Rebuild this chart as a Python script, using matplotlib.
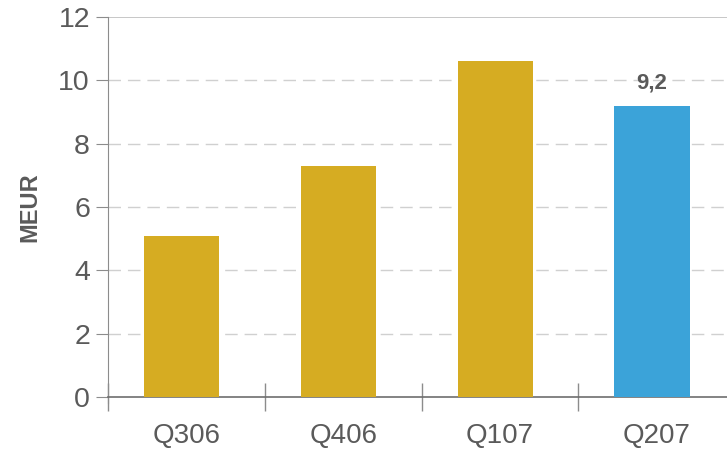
import numpy as np
import matplotlib
matplotlib.use("Agg")
from matplotlib import pyplot as plt

# quarterly values, MEUR
quarters = ["Q306", "Q406", "Q107", "Q207"]
values = [5.1, 7.3, 10.6, 9.2]
bar_colors = ["#D6AC22", "#D6AC22", "#D6AC22", "#3BA3D9"]
highlight = 3  # latest quarter gets a value label

plt.rcParams["font.family"] = ["Liberation Sans", "DejaVu Sans"]
grey = "#5A5A5A"
axis_grey = "#8C8C8C"

fig = plt.figure(figsize=(7.27, 4.54), dpi=100)
# axes runs off the right edge of the figure
ax = fig.add_axes([108 / 727, 57 / 454, 627 / 727, 380 / 454])

pos = np.arange(len(quarters)) + 0.47
ax.bar(pos, values, width=0.48, color=bar_colors, zorder=3)

ax.set_xlim(0, len(quarters))
ax.set_ylim(0, 12)

# category boundaries as ticks, labels centred between them
ax.set_xticks(np.arange(len(quarters) + 1))
ax.set_xticklabels([])
ax.set_xticks(np.arange(len(quarters)) + 0.5, minor=True)
ax.set_xticklabels(quarters, minor=True, fontsize=20, color=grey)
ax.tick_params(axis="x", which="major", direction="inout", length=20,
               color=axis_grey, width=1)
ax.tick_params(axis="x", which="minor", length=0, pad=19)

ax.set_yticks(np.arange(0, 13, 2))
ax.tick_params(axis="y", direction="out", length=9, color=axis_grey,
               labelsize=20.5, labelcolor=grey, pad=4)

for y in range(2, 12, 2):
    ax.axhline(y, color="#D0D0D0", lw=1, ls=(0, (9, 5)), zorder=1)
ax.axhline(12, color="#BDBDBD", lw=1.2, zorder=1)

for side in ["top", "right"]:
    ax.spines[side].set_visible(False)
ax.spines["left"].set_color(axis_grey)
ax.spines["bottom"].set_color("#6E6E6E")
ax.spines["left"].set_bounds(-0.2, 12)
ax.spines["left"].set_position(("data", 0))
ax.spines["bottom"].set_linewidth(1.2)

ax.text(pos[highlight], values[highlight] + 0.4, "9,2", ha="center",
        va="bottom", fontsize=16, fontweight="bold", color=grey)

ax.set_ylabel("MEUR", fontsize=17, fontweight="bold", color=grey, labelpad=12)

fig.savefig("out.png", dpi=100)
